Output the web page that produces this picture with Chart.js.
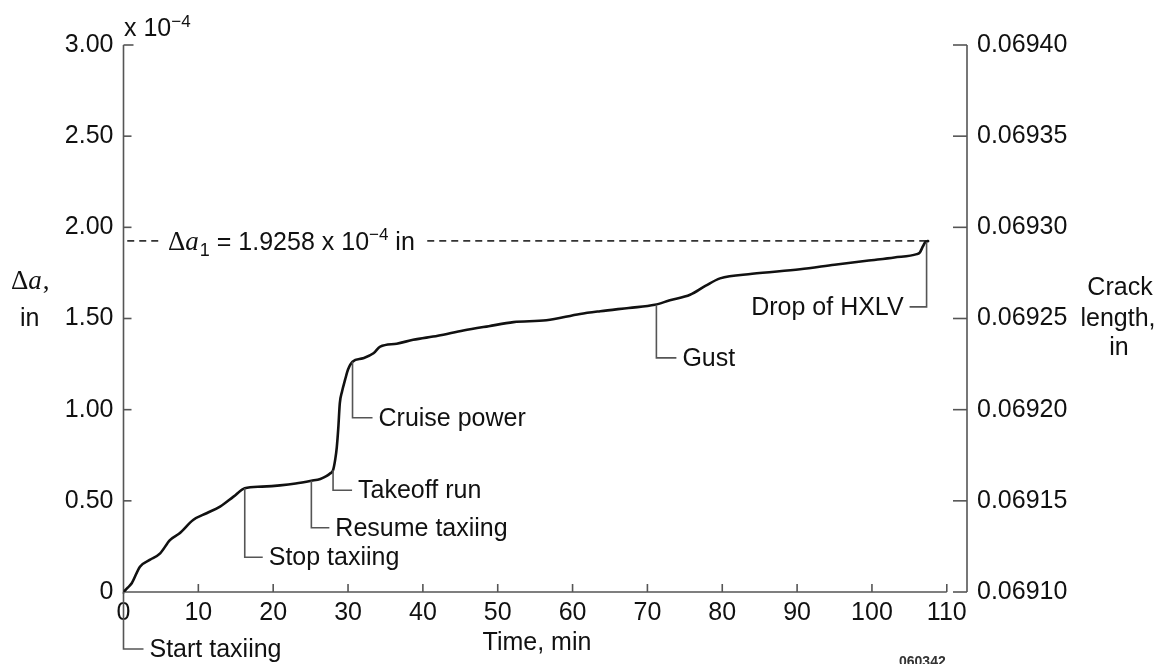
<!DOCTYPE html>
<html><head><meta charset="utf-8">
<script src="https://cdn.jsdelivr.net/npm/chart.js@4.4.0/dist/chart.umd.min.js"></script>
<style>html,body{margin:0;padding:0;background:#fff;overflow:hidden}</style>
</head><body>
<canvas id="c" width="1163" height="664"></canvas>
<script>
// ---------------- data ----------------
const timeMin = [0, 0.6, 1.1, 2.2, 3.5, 4.9, 6.2, 7.5, 9.3, 11.1, 12.9, 14.7, 16.2, 18.5, 20.9, 23.0, 25.1, 26.3, 27.1, 27.6, 28.0, 28.3, 28.5, 28.7, 28.9, 29.2, 29.6, 30.0, 30.6, 32.0, 33.4, 34.3, 36.5, 38.7, 42.0, 45.4, 48.8, 52.1, 56.5, 61.0, 63.7, 67.5, 71.0, 73.0, 75.7, 77.8, 79.7, 84.0, 90.4, 95.0, 99.3, 103.0, 106.0, 106.4, 106.8, 107.1, 107.5];
const deltaA  = [0, 0.025, 0.048, 0.139, 0.176, 0.212, 0.285, 0.322, 0.395, 0.432, 0.468, 0.523, 0.569, 0.578, 0.585, 0.595, 0.61, 0.62, 0.635, 0.65, 0.668, 0.73, 0.795, 0.9, 1.035, 1.10, 1.163, 1.22, 1.263, 1.282, 1.309, 1.346, 1.362, 1.383, 1.405, 1.434, 1.458, 1.48, 1.49, 1.525, 1.54, 1.558, 1.575, 1.60, 1.63, 1.68, 1.72, 1.745, 1.77, 1.795, 1.817, 1.835, 1.853, 1.862, 1.895, 1.917, 1.925];

const finalDeltaA = 1.9258;          // x 10^-4 in
const finalTime = 107.4;

const xTicks = [0, 10, 20, 30, 40, 50, 60, 70, 80, 90, 100, 110];
const leftTicks = [0, 0.5, 1.0, 1.5, 2.0, 2.5, 3.0];
const leftTickLabels = ['0', '0.50', '1.00', '1.50', '2.00', '2.50', '3.00'];
const rightTicks = [0.06910, 0.06915, 0.06920, 0.06925, 0.06930, 0.06935, 0.06940];
const rightTickLabels = ['0.06910', '0.06915', '0.06920', '0.06925', '0.06930', '0.06935', '0.06940'];

const eventLabels = ['Start taxiing', 'Stop taxiing', 'Resume taxiing', 'Takeoff run', 'Cruise power', 'Gust', 'Drop of HXLV'];
const eventTimes  = [0, 16.2, 25.1, 28.0, 30.6, 71.2, 107.3];
const eventValues = [0, 0.569, 0.61, 0.668, 1.263, 1.575, 1.92];

// ---------------- layout / style ----------------
const SANS = '"Liberation Sans", Arial, Helvetica, sans-serif';
const SERIF = '"Liberation Serif", "Times New Roman", serif';
const TXT = '#111';
const AX = '#555';
// leader drop (px) and horizontal run (px, negative = to the left)
const leaderDrop = [57, 69, 47, 20, 56, 53, 65];
const leaderRun  = [20, 18, 18, 19, 20, 20, -17];

const curve = timeMin.map((t, i) => ({x: t, y: deltaA[i]}));

const decor = {
  id: 'decor',
  beforeDatasetsDraw(chart) {
    const {ctx, chartArea: a, scales: {x, y, y2}} = chart;
    ctx.save();
    ctx.strokeStyle = AX; ctx.lineWidth = 1.6; ctx.lineCap = 'butt';
    const L = (x1, y1, x2, y2_) => { ctx.beginPath(); ctx.moveTo(x1, y1); ctx.lineTo(x2, y2_); ctx.stroke(); };
    // left axis
    L(a.left, a.top, a.left, a.bottom + 2);
    leftTicks.forEach(v => { const p = y.getPixelForValue(v); if (v > 0) L(a.left, p, a.left + (v === 3 ? 10 : 8), p); });
    // bottom axis (ends at 110)
    const x110 = x.getPixelForValue(110);
    L(a.left, a.bottom, x110, a.bottom);
    xTicks.forEach(v => { if (v > 0) { const p = x.getPixelForValue(v); L(p, a.bottom, p, a.bottom - 8); } });
    // right axis
    L(a.right, a.top, a.right, a.bottom);
    rightTicks.forEach(v => { const p = y2.getPixelForValue(v); L(a.right - 14, p, a.right, p); });
    ctx.restore();
  },
  afterDatasetsDraw(chart) {
    const {ctx, chartArea: a, scales: {x, y, y2}} = chart;
    ctx.save();
    // leader lines + event labels
    eventLabels.forEach((lab, i) => {
      const px = x.getPixelForValue(eventTimes[i]);
      const py = y.getPixelForValue(eventValues[i]);
      const ey = py + leaderDrop[i];
      const ex = px + leaderRun[i];
      ctx.strokeStyle = AX; ctx.lineWidth = 1.6;
      ctx.beginPath(); ctx.moveTo(px, py); ctx.lineTo(px, ey); ctx.lineTo(ex, ey); ctx.stroke();
      ctx.fillStyle = TXT; ctx.font = '25px ' + SANS; ctx.textBaseline = 'middle';
      if (leaderRun[i] > 0) { ctx.textAlign = 'left'; ctx.fillText(lab, ex + 6, ey + 1); }
      else { ctx.textAlign = 'right'; ctx.fillText(lab, ex - 6, ey + 1); }
    });

    // Δa1 label on the dashed line
    const yy = y.getPixelForValue(finalDeltaA);
    const base = yy + 9;
    const parts = [
      {t: 'Δ', f: '27px ' + SERIF, dy: 0},
      {t: 'a', f: 'italic 27px ' + SERIF, dy: 0},
      {t: '1', f: '18px ' + SANS, dy: 6, pre: 1},
      {t: ' = 1.9258 x 10', f: '25px ' + SANS, dy: 0},
      {t: '−4', f: '17px ' + SANS, dy: -10},
      {t: ' in', f: '25px ' + SANS, dy: 0}
    ];
    ctx.textAlign = 'left'; ctx.textBaseline = 'alphabetic';
    let total = 0;
    parts.forEach(p => { ctx.font = p.f; p.w = ctx.measureText(p.t).width + (p.pre || 0); total += p.w; });
    let xx = 168;
    ctx.fillStyle = '#fff'; ctx.fillRect(xx - 9, yy - 6, total + 20, 12);
    ctx.fillStyle = TXT;
    parts.forEach(p => { ctx.font = p.f; ctx.fillText(p.t, xx + (p.pre || 0), base + p.dy); xx += p.w; });

    // x 10^-4 at top of left axis
    ctx.font = '25px ' + SANS; ctx.fillText('x 10', 124, 36);
    const w10 = ctx.measureText('x 10').width;
    ctx.font = '17px ' + SANS; ctx.fillText('−4', 124 + w10, 27);

    // left axis title
    ctx.font = '27px ' + SERIF; ctx.fillText('Δ', 11, 289);
    const wD = ctx.measureText('Δ').width;
    ctx.font = 'italic 27px ' + SERIF; ctx.fillText('a', 11 + wD, 289);
    const wA = ctx.measureText('a').width;
    ctx.font = '27px ' + SERIF; ctx.fillText(',', 11 + wD + wA + 1, 289);
    ctx.font = '25px ' + SANS; ctx.textBaseline = 'middle';
    ctx.fillText('in', 20, y.getPixelForValue(1.5) + 1);

    // right axis title
    ctx.textAlign = 'center';
    const r15 = y2.getPixelForValue(0.06925) + 1;
    ctx.fillText('Crack', 1120, r15 - 31);
    ctx.fillText('length,', 1118, r15);
    ctx.fillText('in', 1119, r15 + 29);

    // x-axis title
    ctx.fillText('Time, min', 537, 643);

    // figure id
    ctx.textAlign = 'left'; ctx.textBaseline = 'alphabetic';
    ctx.font = 'bold 14px ' + SANS; ctx.fillStyle = '#333';
    ctx.fillText('060342', 899, 666);
    ctx.restore();
  }
};

new Chart(document.getElementById('c'), {
  type: 'scatter',
  data: {
    datasets: [
      {data: curve, showLine: true, borderColor: '#111', borderWidth: 2.6, pointRadius: 0,
       cubicInterpolationMode: 'monotone', borderJoinStyle: 'round', borderCapStyle: 'round', yAxisID: 'y', order: 1},
      {data: [{x: 0.5, y: finalDeltaA}, {x: finalTime, y: finalDeltaA}], showLine: true, borderColor: '#333',
       borderWidth: 1.6, borderDash: [7, 5], pointRadius: 0, yAxisID: 'y', order: 2}
    ]
  },
  options: {
    responsive: false, animation: false, devicePixelRatio: 1,
    layout: {padding: {top: 45, left: 0, right: 0, bottom: 0}},
    plugins: {legend: {display: false}, tooltip: {enabled: false}},
    scales: {
      x: {type: 'linear', min: 0, max: 112.7,
          afterBuildTicks: s => { s.ticks = xTicks.map(v => ({value: v})); },
          afterFit: s => { s.height = 72; },
          grid: {display: false, drawTicks: false}, border: {display: false},
          ticks: {autoSkip: false, maxRotation: 0, padding: 6, color: TXT, font: {family: SANS, size: 25}, callback: v => String(v)}},
      y: {type: 'linear', position: 'left', min: 0, max: 3,
          afterBuildTicks: s => { s.ticks = leftTicks.map(v => ({value: v})); },
          afterFit: s => { s.width = 123.5; },
          grid: {display: false, drawTicks: false}, border: {display: false},
          ticks: {padding: 10, color: TXT, font: {family: SANS, size: 25}, callback: (v, i) => leftTickLabels[i]}},
      y2: {type: 'linear', position: 'right', min: 0.06910, max: 0.06940,
          afterBuildTicks: s => { s.ticks = rightTicks.map(v => ({value: v})); },
          afterFit: s => { s.width = 196; },
          grid: {display: false, drawTicks: false}, border: {display: false},
          ticks: {padding: 10, color: TXT, font: {family: SANS, size: 25}, callback: (v, i) => rightTickLabels[i]}}
    }
  },
  plugins: [decor]
});
</script>
</body></html>
